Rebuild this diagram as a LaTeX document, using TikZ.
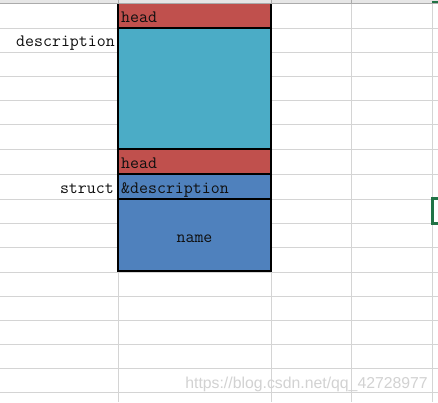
\documentclass[tikz,border=0pt]{standalone}
\usepackage{fontspec}
\newfontfamily\wmfont{Liberation Sans}
\definecolor{redc}{HTML}{C0504D}
\definecolor{cyanc}{HTML}{4BACC6}
\definecolor{bluec}{HTML}{4F81BD}
\definecolor{gridc}{HTML}{D4D4D4}
\definecolor{hdrc}{HTML}{E6E6E6}
\definecolor{hdrl}{HTML}{ABABAB}
\definecolor{selc}{HTML}{217346}
\definecolor{txtc}{HTML}{101010}
\definecolor{wmc}{HTML}{D2D2D2}
\begin{document}
\begin{tikzpicture}[x=1pt,y=-1pt,
  gridline/.style={draw=gridc,line width=1pt},
  blk/.style={draw=black,line width=2pt,minimum width=153pt,inner sep=0pt,outer sep=0pt,anchor=north west},
  lbl/.style={font=\ttfamily\fontsize{17.4}{17.4}\selectfont,text=txtc,inner sep=0pt},
  wm/.style={font=\wmfont\fontsize{15.8}{15.8}\selectfont,text=wmc,inner sep=0pt},
  sel/.style={draw=selc,line width=2.5pt}]
\useasboundingbox (0,0) rectangle (438,402);
\fill[white] (0,0) rectangle (438,402);
% grid
\foreach \yy in {28,52,76,100,124,149,174,199,223,247,272,296,320,344,368,392}
  \draw[gridline] (0,\yy) -- (438,\yy);
\foreach \xx in {118,271,351,432}
  \draw[gridline] (\xx,0) -- (\xx,402);
% blocks
\node[blk,fill=redc,minimum height=26pt] (head1) at (118,2) {};
\node[blk,fill=cyanc,minimum height=121pt] (desc) at (118,28) {};
\node[blk,fill=redc,minimum height=25pt] (head2) at (118,149) {};
\node[blk,fill=bluec,minimum height=25pt] (ref) at (118,174) {};
\node[blk,fill=bluec,minimum height=72pt] (name) at (118,199) {};
% header strip
\fill[hdrc] (0,0) rectangle (438,3);
\draw[hdrl,line width=0.6pt] (0,3) -- (438,3);
\foreach \xx in {118,271,351}
  \draw[hdrl,line width=1pt] (\xx,0) -- (\xx,3);
\draw[selc,line width=2pt] (432,2) -- (438,2);
% labels
\node[lbl,anchor=base west] (t1) at (121,22) {head};
\node[lbl,anchor=base east] (t2) at (115,46) {description};
\node[lbl,anchor=base west] (t3) at (121,168) {head};
\node[lbl,anchor=base east] (t4) at (114,193) {struct};
\node[lbl,anchor=base west] (t5) at (121,193) {\&description};
\node[lbl,anchor=base] (t6) at ([yshift=-7pt]name.center) {name};
% selection
\draw[sel] (438,198.5) -- (432.5,198.5) -- (432.5,223.5) -- (438,223.5);
% watermark
\node[wm,anchor=base east] (wmk) at (428,388) {https://blog.csdn.net/qq\_42728977};
\end{tikzpicture}
\end{document}
